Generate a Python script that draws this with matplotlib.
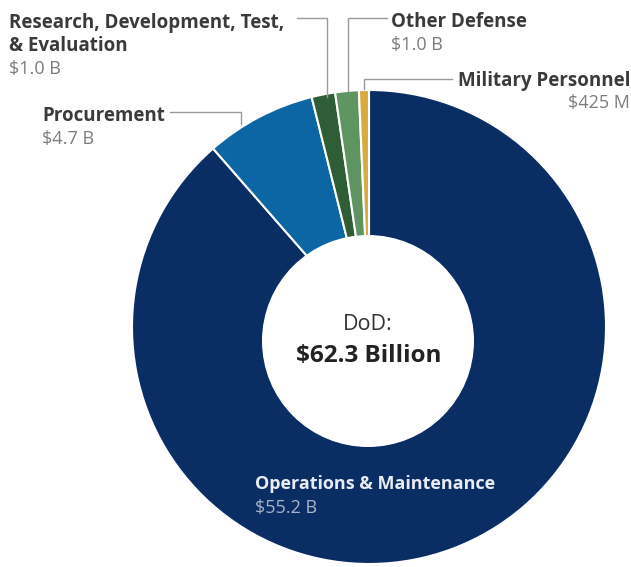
import matplotlib
matplotlib.use("Agg")
import matplotlib.pyplot as plt
from matplotlib.patches import Circle

# DoD budget split (billions)
categories = ["Operations & Maintenance", "Procurement",
              "Research, Development, Test,\n& Evaluation", "Other Defense",
              "Military Personnel"]
values = [55.2, 4.7, 1.0, 1.0, 0.425]
value_labels = ["$55.2 B", "$4.7 B", "$1.0 B", "$1.0 B", "$425 M"]
total_label = "$62.3 Billion"
colors = ["#0a2d64", "#0b66a3", "#2f5e36", "#5e9460", "#d8ab3c"]

W, H = 631, 567
label_col = "#3a3a3a"
value_col = "#7c7c7c"
line_col = "#9a9a9a"

plt.rcParams["font.family"] = ["Open Sans", "DejaVu Sans"]

fig = plt.figure(figsize=(W / 100, H / 100), dpi=100)
ax = fig.add_axes([0, 0, 1, 1])


def py(y):
    # pixel row from top -> data y
    return H - y


# donut
ax.pie(values, colors=colors, startangle=90, counterclock=False,
       center=(369, py(327)), radius=237,
       wedgeprops=dict(edgecolor="white", linewidth=1.5))
ax.add_patch(Circle((368, py(341)), 106, facecolor="white", edgecolor="none", zorder=5))

ax.set_xlim(0, W)
ax.set_ylim(0, H)
ax.set_aspect("equal")
ax.axis("off")

lab = dict(fontsize=13.5, fontweight="bold", va="baseline")
val = dict(fontsize=13, va="baseline")

# centre text
ax.text(368, py(330), "DoD:", ha="center", va="baseline", fontsize=15.5,
        color="#333333", zorder=6)
ax.text(369, py(362), total_label, ha="center", va="baseline", fontsize=17.5,
        fontweight="bold", color="#222222", zorder=6)

# O&M label inside ring
ax.text(255, py(489), categories[0], ha="left", color="#e8ebf2", zorder=6,
        fontsize=13, fontweight="bold", va="baseline")
ax.text(255, py(513), value_labels[0], ha="left", color="#a9b3c8", zorder=6, **val)

# outside labels
rd_lines = categories[2].split("\n")
ax.text(9, py(28), rd_lines[0], ha="left", color=label_col, **lab)
ax.text(9, py(51), rd_lines[1], ha="left", color=label_col, **lab)
ax.text(9, py(74), value_labels[2], ha="left", color=value_col, **val)

ax.text(42, py(121), categories[1], ha="left", color=label_col, **lab)
ax.text(42, py(144), value_labels[1], ha="left", color=value_col, **val)

ax.text(391, py(27), categories[3], ha="left", color=label_col, **lab)
ax.text(391, py(50), value_labels[3], ha="left", color=value_col, **val)

ax.text(630, py(86), categories[4], ha="right", color=label_col, **lab)
ax.text(630, py(108), value_labels[4], ha="right", color=value_col, **val)

# leader lines
leaders = [
    ([297, 327, 327], [18, 18, 97]),
    ([170, 241, 241], [112, 112, 124]),
    ([387, 348, 348], [18, 18, 91]),
    ([452, 364, 364], [79, 79, 89]),
]
for xs, ys in leaders:
    ax.plot(xs, [py(v) for v in ys], color=line_col, lw=1, zorder=1)

fig.savefig("out.png", dpi=100)
